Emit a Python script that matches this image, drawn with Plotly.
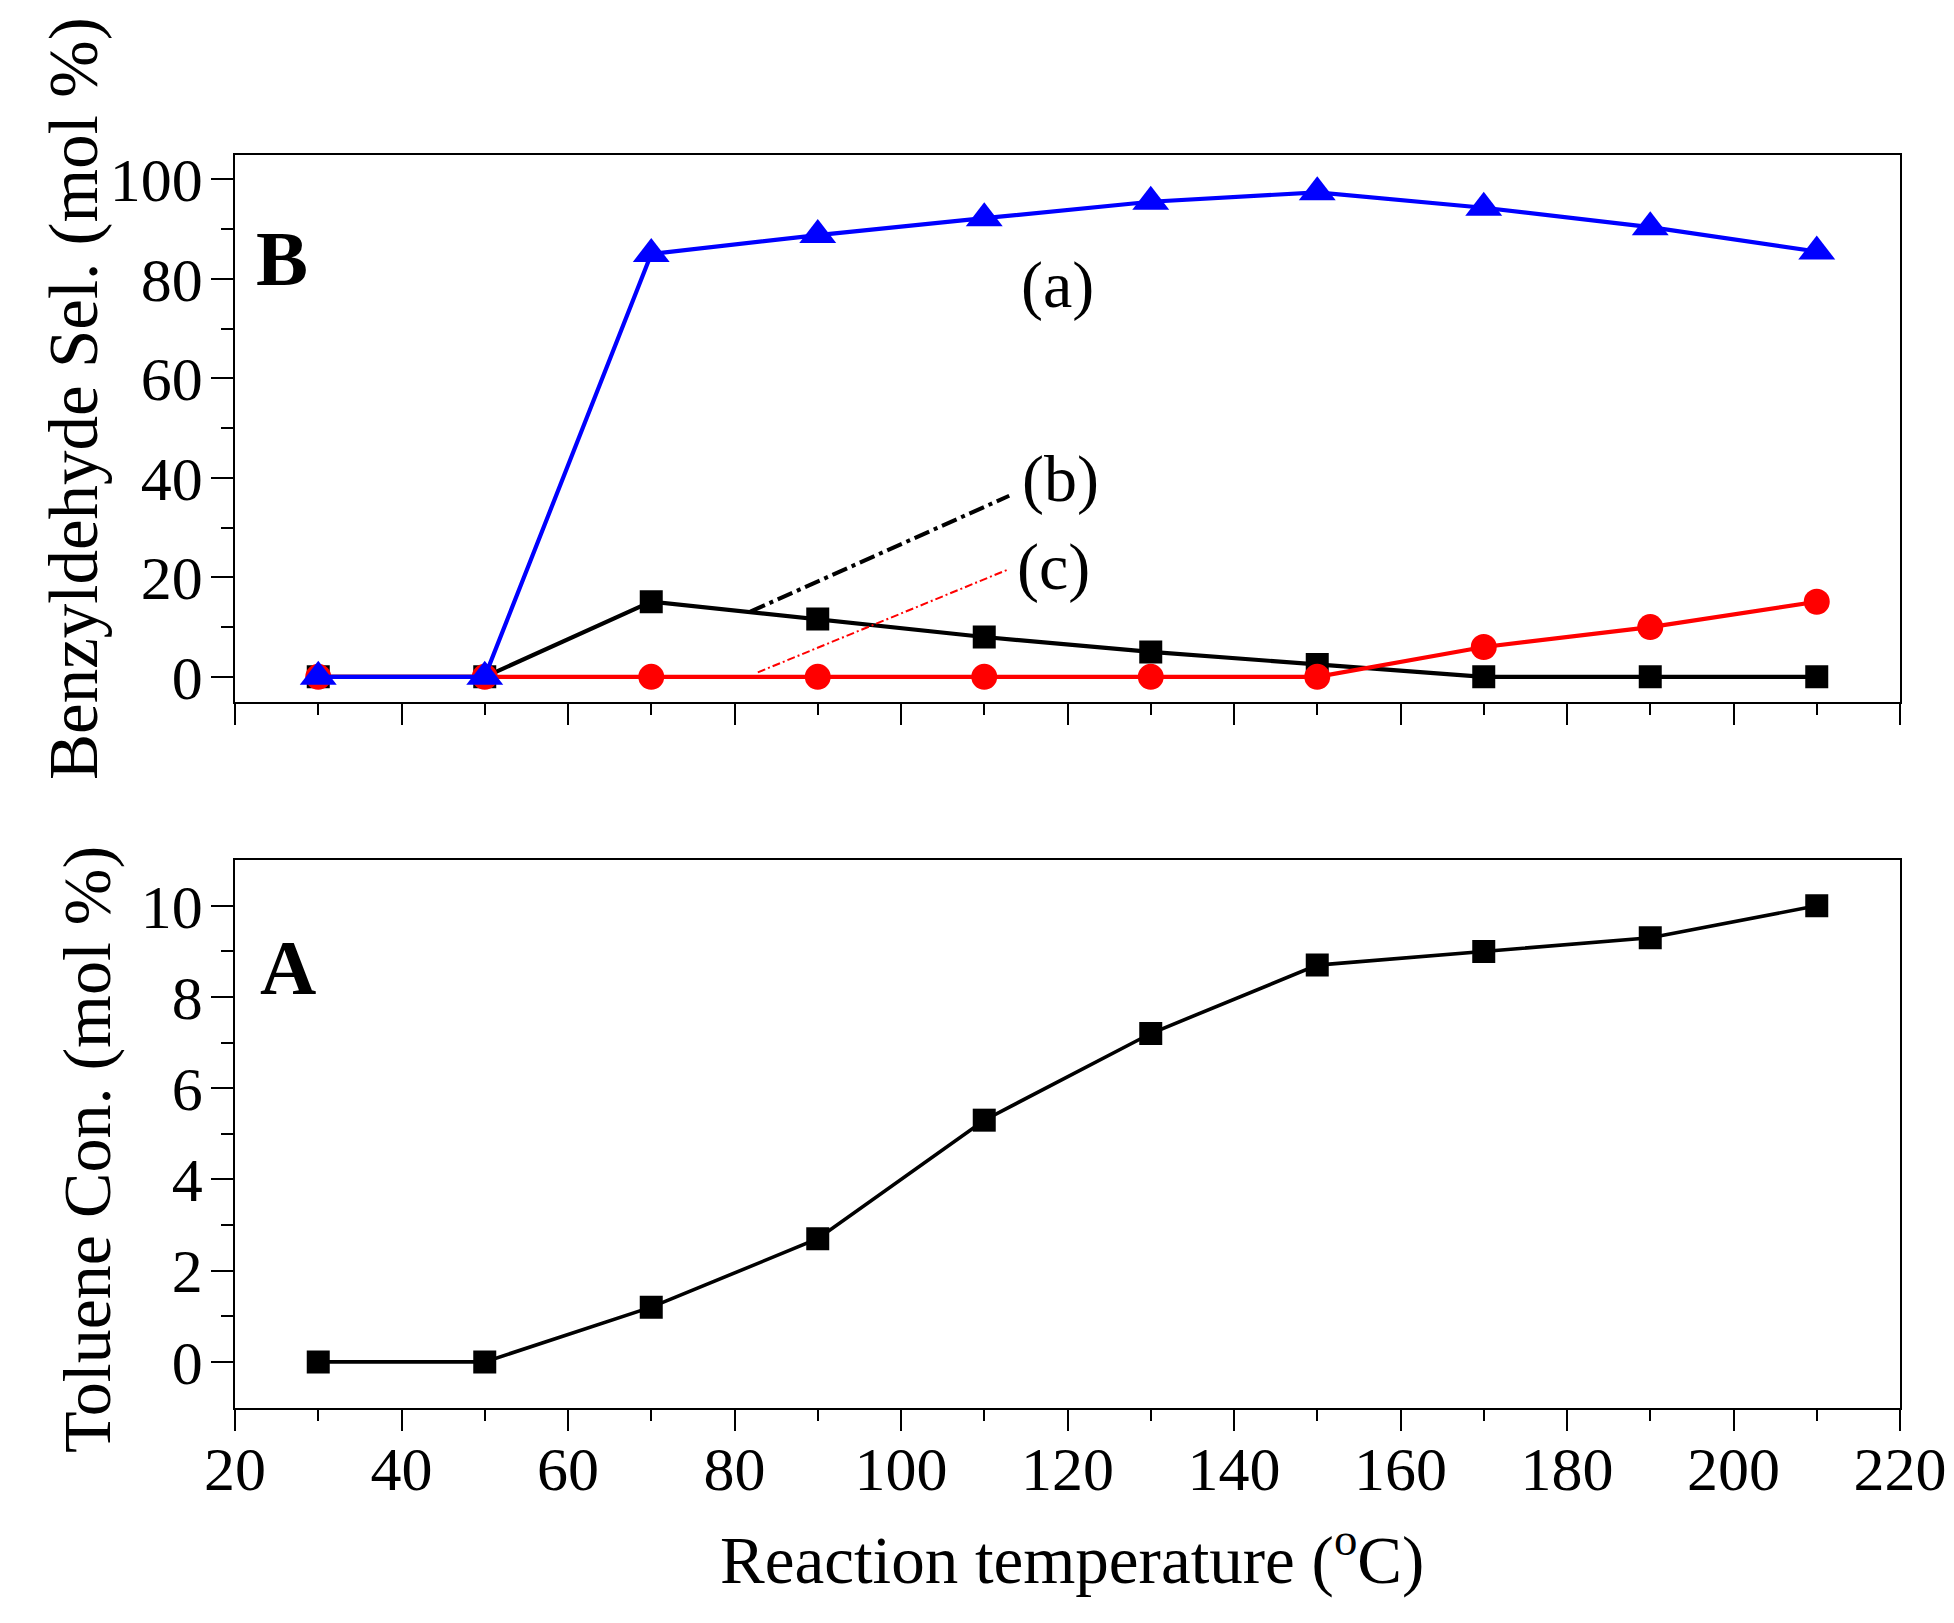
import plotly.graph_objects as go

# ---------------- data ----------------
temperature = [30, 50, 70, 90, 110, 130, 150, 170, 190, 210]

# panel B: benzaldehyde selectivity (mol %)
sel_a_blue = [0, 0, 85.0, 88.8, 92.2, 95.5, 97.4, 94.3, 90.4, 85.5]
sel_b_black = [0, 0, 15.1, 11.6, 8.0, 5.0, 2.5, 0, 0, 0]
sel_c_red = [0, 0, 0, 0, 0, 0, 0, 6.0, 10.0, 15.1]

# panel A: toluene conversion (mol %)
toluene_conv = [0, 0, 1.2, 2.7, 5.3, 7.2, 8.7, 9.0, 9.3, 10.0]

# curve labels and their leader lines (data coordinates of panel B)
label_texts = ["(a)", "(b)", "(c)"]
label_x = [118.8, 119.2, 118.3]
label_y = [78.8, 39.7, 22.1]
leader_b_x = [81.9, 113.0]
leader_b_y = [13.1, 36.4]
leader_c_x = [82.8, 112.9]
leader_c_y = [0.9, 21.6]

x_ticks = [20, 40, 60, 80, 100, 120, 140, 160, 180, 200, 220]
yB_ticks = [0, 20, 40, 60, 80, 100]
yA_ticks = [0, 2, 4, 6, 8, 10]

# ---------------- figure ----------------
W, H = 1954, 1623
FONT = "Liberation Serif"
X0, X1 = 235.0, 1900.0
TOP_B, BOT_B = 154.5, 701.7
TOP_A, BOT_A = 860.2, 1407.5


def px_x(p):
    return p / W


def px_y(p):
    return 1 - p / H


fig = go.Figure()

fig.add_trace(go.Scatter(
    x=temperature, y=sel_b_black, mode="lines+markers", xaxis="x2", yaxis="y2",
    line=dict(color="black", width=4.2),
    marker=dict(symbol="square", size=23, color="black"), showlegend=False))
fig.add_trace(go.Scatter(
    x=temperature, y=sel_c_red, mode="lines+markers", xaxis="x2", yaxis="y2",
    line=dict(color="#ff0000", width=4.2),
    marker=dict(symbol="circle", size=26, color="#ff0000"), showlegend=False))
fig.add_trace(go.Scatter(
    x=temperature, y=sel_a_blue, mode="lines+markers", xaxis="x2", yaxis="y2",
    line=dict(color="#0000ff", width=4.2),
    marker=dict(symbol="triangle-up", size=32, color="#0000ff"), showlegend=False))

fig.add_trace(go.Scatter(
    x=temperature, y=toluene_conv, mode="lines+markers", xaxis="x", yaxis="y",
    line=dict(color="black", width=3.6),
    marker=dict(symbol="square", size=23, color="black"), showlegend=False))

axis_common = dict(
    showgrid=False, zeroline=False, showline=True, linecolor="black", linewidth=1.5,
    mirror=True, ticks="outside", ticklen=22, tickwidth=1.5, tickcolor="black",
    automargin=False,
    tickfont=dict(family=FONT, size=62, color="black"),
)

minor_common = dict(ticks="outside", ticklen=12, tickwidth=1.5, tickcolor="black")

xdom = [px_x(X0), px_x(X1)]
fig.update_layout(
    width=W, height=H,
    margin=dict(l=0, r=0, t=0, b=0, pad=0),
    paper_bgcolor="white", plot_bgcolor="white",
    font=dict(family=FONT, color="black"),
    xaxis=dict(domain=xdom, anchor="y", range=[20, 220], tickvals=x_ticks,
               ticklabelstandoff=-16,
               minor=dict(tickvals=list(range(30, 220, 20)), **minor_common),
               **axis_common),
    yaxis=dict(domain=[px_y(BOT_A), px_y(TOP_A)], anchor="x", range=[-1, 11], tickvals=yA_ticks,
               ticklabelstandoff=-4,
               minor=dict(tickvals=[1, 3, 5, 7, 9], **minor_common),
               **axis_common),
    xaxis2=dict(domain=xdom, anchor="y2", range=[20, 220], tickvals=x_ticks, showticklabels=False,
                minor=dict(tickvals=list(range(30, 220, 20)), **minor_common),
                **axis_common),
    yaxis2=dict(domain=[px_y(BOT_B), px_y(TOP_B)], anchor="x2", range=[-5, 105], tickvals=yB_ticks,
                ticklabelstandoff=-4,
                minor=dict(tickvals=[10, 30, 50, 70, 90], **minor_common),
                **axis_common),
)

# leader lines for the curve labels
fig.add_shape(type="line", xref="x2", yref="y2",
              x0=leader_b_x[0], y0=leader_b_y[0], x1=leader_b_x[1], y1=leader_b_y[1],
              line=dict(color="black", width=4, dash="16px,5px,4px,5px"))
fig.add_shape(type="line", xref="x2", yref="y2",
              x0=leader_c_x[0], y0=leader_c_y[0], x1=leader_c_x[1], y1=leader_c_y[1],
              line=dict(color="#ff0000", width=2, dash="8px,3px,2px,3px"))

for t, lx, ly in zip(label_texts, label_x, label_y):
    fig.add_annotation(x=lx, y=ly, xref="x2", yref="y2", text=t, showarrow=False,
                       font=dict(family=FONT, size=66, color="black"),
                       xanchor="center", yanchor="middle")

# panel letters
fig.add_annotation(x=px_x(282), y=px_y(258), xref="paper", yref="paper", text="<b>B</b>",
                   showarrow=False, font=dict(family=FONT, size=78, color="black"),
                   xanchor="center", yanchor="middle")
fig.add_annotation(x=px_x(288), y=px_y(968), xref="paper", yref="paper", text="<b>A</b>",
                   showarrow=False, font=dict(family=FONT, size=78, color="black"),
                   xanchor="center", yanchor="middle")

# axis titles
fig.add_annotation(x=px_x(74), y=px_y(399), xref="paper", yref="paper",
                   text="Benzyldehyde Sel. (mol %)", textangle=-90, showarrow=False,
                   font=dict(family=FONT, size=69, color="black"),
                   xanchor="center", yanchor="middle")
fig.add_annotation(x=px_x(87), y=px_y(1150), xref="paper", yref="paper",
                   text="Toluene Con. (mol %)", textangle=-90, showarrow=False,
                   font=dict(family=FONT, size=68, color="black"),
                   xanchor="center", yanchor="middle")
fig.add_annotation(x=px_x(1072), y=px_y(1555), xref="paper", yref="paper",
                   text="Reaction temperature (<sup>o</sup>C)", showarrow=False,
                   font=dict(family=FONT, size=67, color="black"),
                   xanchor="center", yanchor="middle")

fig.write_html("out.html", config={"displayModeBar": False},
               post_script="document.body.style.margin='0px';")
